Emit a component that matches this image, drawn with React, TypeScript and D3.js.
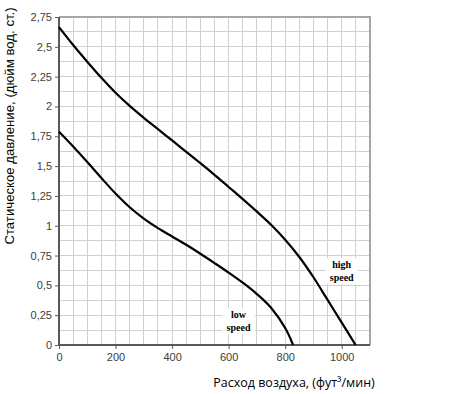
import React, { useRef, useEffect } from 'react';
import * as d3 from 'd3';

// air flow (cfm) vs static pressure (in. wg)
const highFlow = [0, 50, 100, 150, 200, 250, 300, 350, 400, 450, 500, 550, 600, 650, 700, 750, 800, 850, 900, 950, 1000, 1049];
const highPressure = [2.665, 2.515, 2.375, 2.24, 2.115, 2.005, 1.905, 1.81, 1.715, 1.62, 1.525, 1.427, 1.325, 1.223, 1.118, 1.008, 0.883, 0.738, 0.568, 0.378, 0.188, 0];

const lowFlow = [0, 50, 100, 150, 200, 250, 300, 350, 400, 450, 500, 550, 600, 650, 700, 750, 800, 828];
const lowPressure = [1.788, 1.665, 1.535, 1.4, 1.27, 1.155, 1.06, 0.98, 0.91, 0.84, 0.765, 0.687, 0.607, 0.522, 0.427, 0.312, 0.142, 0];

const xTicks = [0, 200, 400, 600, 800, 1000];
const yTicks = [0, 0.25, 0.5, 0.75, 1, 1.25, 1.5, 1.75, 2, 2.25, 2.5, 2.75];
const xGrid = [50, 100, 150, 200, 250, 300, 350, 400, 450, 500, 550, 600, 650, 700, 750, 800, 850, 900, 950, 1000, 1050];
const yGrid = [0.125, 0.25, 0.375, 0.5, 0.625, 0.75, 0.875, 1, 1.125, 1.25, 1.375, 1.5, 1.625, 1.75, 1.875, 2, 2.125, 2.25, 2.375, 2.5, 2.625];

const labels = [
  { lines: ['high', 'speed'], flow: 1000, pressure: 0.645 },
  { lines: ['low', 'speed'], flow: 635, pressure: 0.225 },
];

const xTitle = 'Расход воздуха, (фут³/мин)';
const yTitle = 'Статическое давление, (дюйм вод. ст.)';

const width = 450;
const height = 394;
const left = 59;
const top = 17;
const right = 370;
const bottom = 345;

function App() {
  const canvas = useRef<SVGGElement>(null);

  const xScale = d3.scaleLinear().domain([0, 1100]).range([left, right]);
  const yScale = d3.scaleLinear().domain([0, 2.75]).range([bottom, top]);

  useEffect(() => {
    const svg = d3.select(canvas.current);
    svg.selectAll('*').remove();

    // frame top/right
    svg.append('path')
      .attr('d', `M${left},${top}H${right}V${bottom}`)
      .attr('fill', 'none').attr('stroke', '#a6a6a6').attr('stroke-width', 2);

    // axes
    const yAxis = svg.append('g')
      .attr('transform', `translate(${left},0)`)
      .call(d3.axisLeft(yScale).tickValues(yTicks).tickSize(4).tickPadding(3)
        .tickFormat(d => String(d).replace('.', ',')));
    const xAxis = svg.append('g')
      .attr('transform', `translate(0,${bottom})`)
      .call(d3.axisBottom(xScale).tickValues(xTicks).tickSize(4).tickPadding(4)
        .tickFormat(d => String(d)));
    [yAxis, xAxis].forEach(a => {
      a.select('.domain').remove();
      a.selectAll('line').attr('stroke', '#595959');
      a.selectAll('text')
        .attr('font-family', 'Liberation Sans, Arial, sans-serif')
        .attr('font-size', 11).attr('fill', '#404040');
    });
    svg.append('path')
      .attr('d', `M${left},${top}V${bottom}H${right}`)
      .attr('fill', 'none').attr('stroke', '#595959').attr('stroke-width', 2);

    // curves
    const line = d3.line<[number, number]>()
      .x(d => xScale(d[0])).y(d => yScale(d[1]))
      .curve(d3.curveCatmullRom.alpha(0.5));
    const series = [
      highFlow.map((f, i) => [f, highPressure[i]] as [number, number]),
      lowFlow.map((f, i) => [f, lowPressure[i]] as [number, number]),
    ];
    svg.append('g').selectAll('path').data(series).enter().append('path')
      .attr('d', d => line(d))
      .attr('fill', 'none').attr('stroke', '#000').attr('stroke-width', 2.2);

    // annotations
    labels.forEach(l => {
      const g = svg.append('g');
      const bg = g.append('rect').attr('fill', '#fff');
      const t = g.append('text')
        .attr('x', xScale(l.flow)).attr('y', yScale(l.pressure))
        .attr('text-anchor', 'middle')
        .attr('font-family', 'Liberation Serif, Times New Roman, serif')
        .attr('font-weight', 'bold').attr('font-size', 10).attr('fill', '#000');
      l.lines.forEach((s, i) => {
        t.append('tspan').attr('x', xScale(l.flow)).attr('dy', i === 0 ? 0 : 13).text(s);
      });
      const b = (t.node() as SVGTextElement).getBBox();
      bg.attr('x', b.x - 4).attr('y', b.y - 1).attr('width', b.width + 8).attr('height', b.height + 2);
    });

    // titles
    svg.append('text')
      .attr('x', 294).attr('y', 387)
      .attr('text-anchor', 'middle')
      .attr('font-family', 'Open Sans, sans-serif').attr('font-size', 12.5)
      .attr('fill', '#000')
      .text(xTitle);
    svg.append('text')
      .attr('transform', 'translate(14,126) rotate(-90)')
      .attr('text-anchor', 'middle')
      .attr('font-family', 'Liberation Sans, Arial, sans-serif').attr('font-size', 13.2)
      .attr('fill', '#000')
      .text(yTitle);
  });

  return (
    <div style={{ position: 'absolute', left: 0, top: 0 }}>
      <svg width={width} height={height} style={{ display: 'block', background: '#fff' }}>
        <g stroke="#d0d0d0" strokeWidth={1} shapeRendering="crispEdges">
          {xGrid.map(d => (
            <line key={'x' + d} x1={xScale(d)} x2={xScale(d)} y1={top} y2={bottom} />
          ))}
          {yGrid.map(d => (
            <line key={'y' + d} x1={left} x2={right} y1={yScale(d)} y2={yScale(d)} />
          ))}
        </g>
        <g ref={canvas} />
      </svg>
    </div>
  );
}

export default App;
